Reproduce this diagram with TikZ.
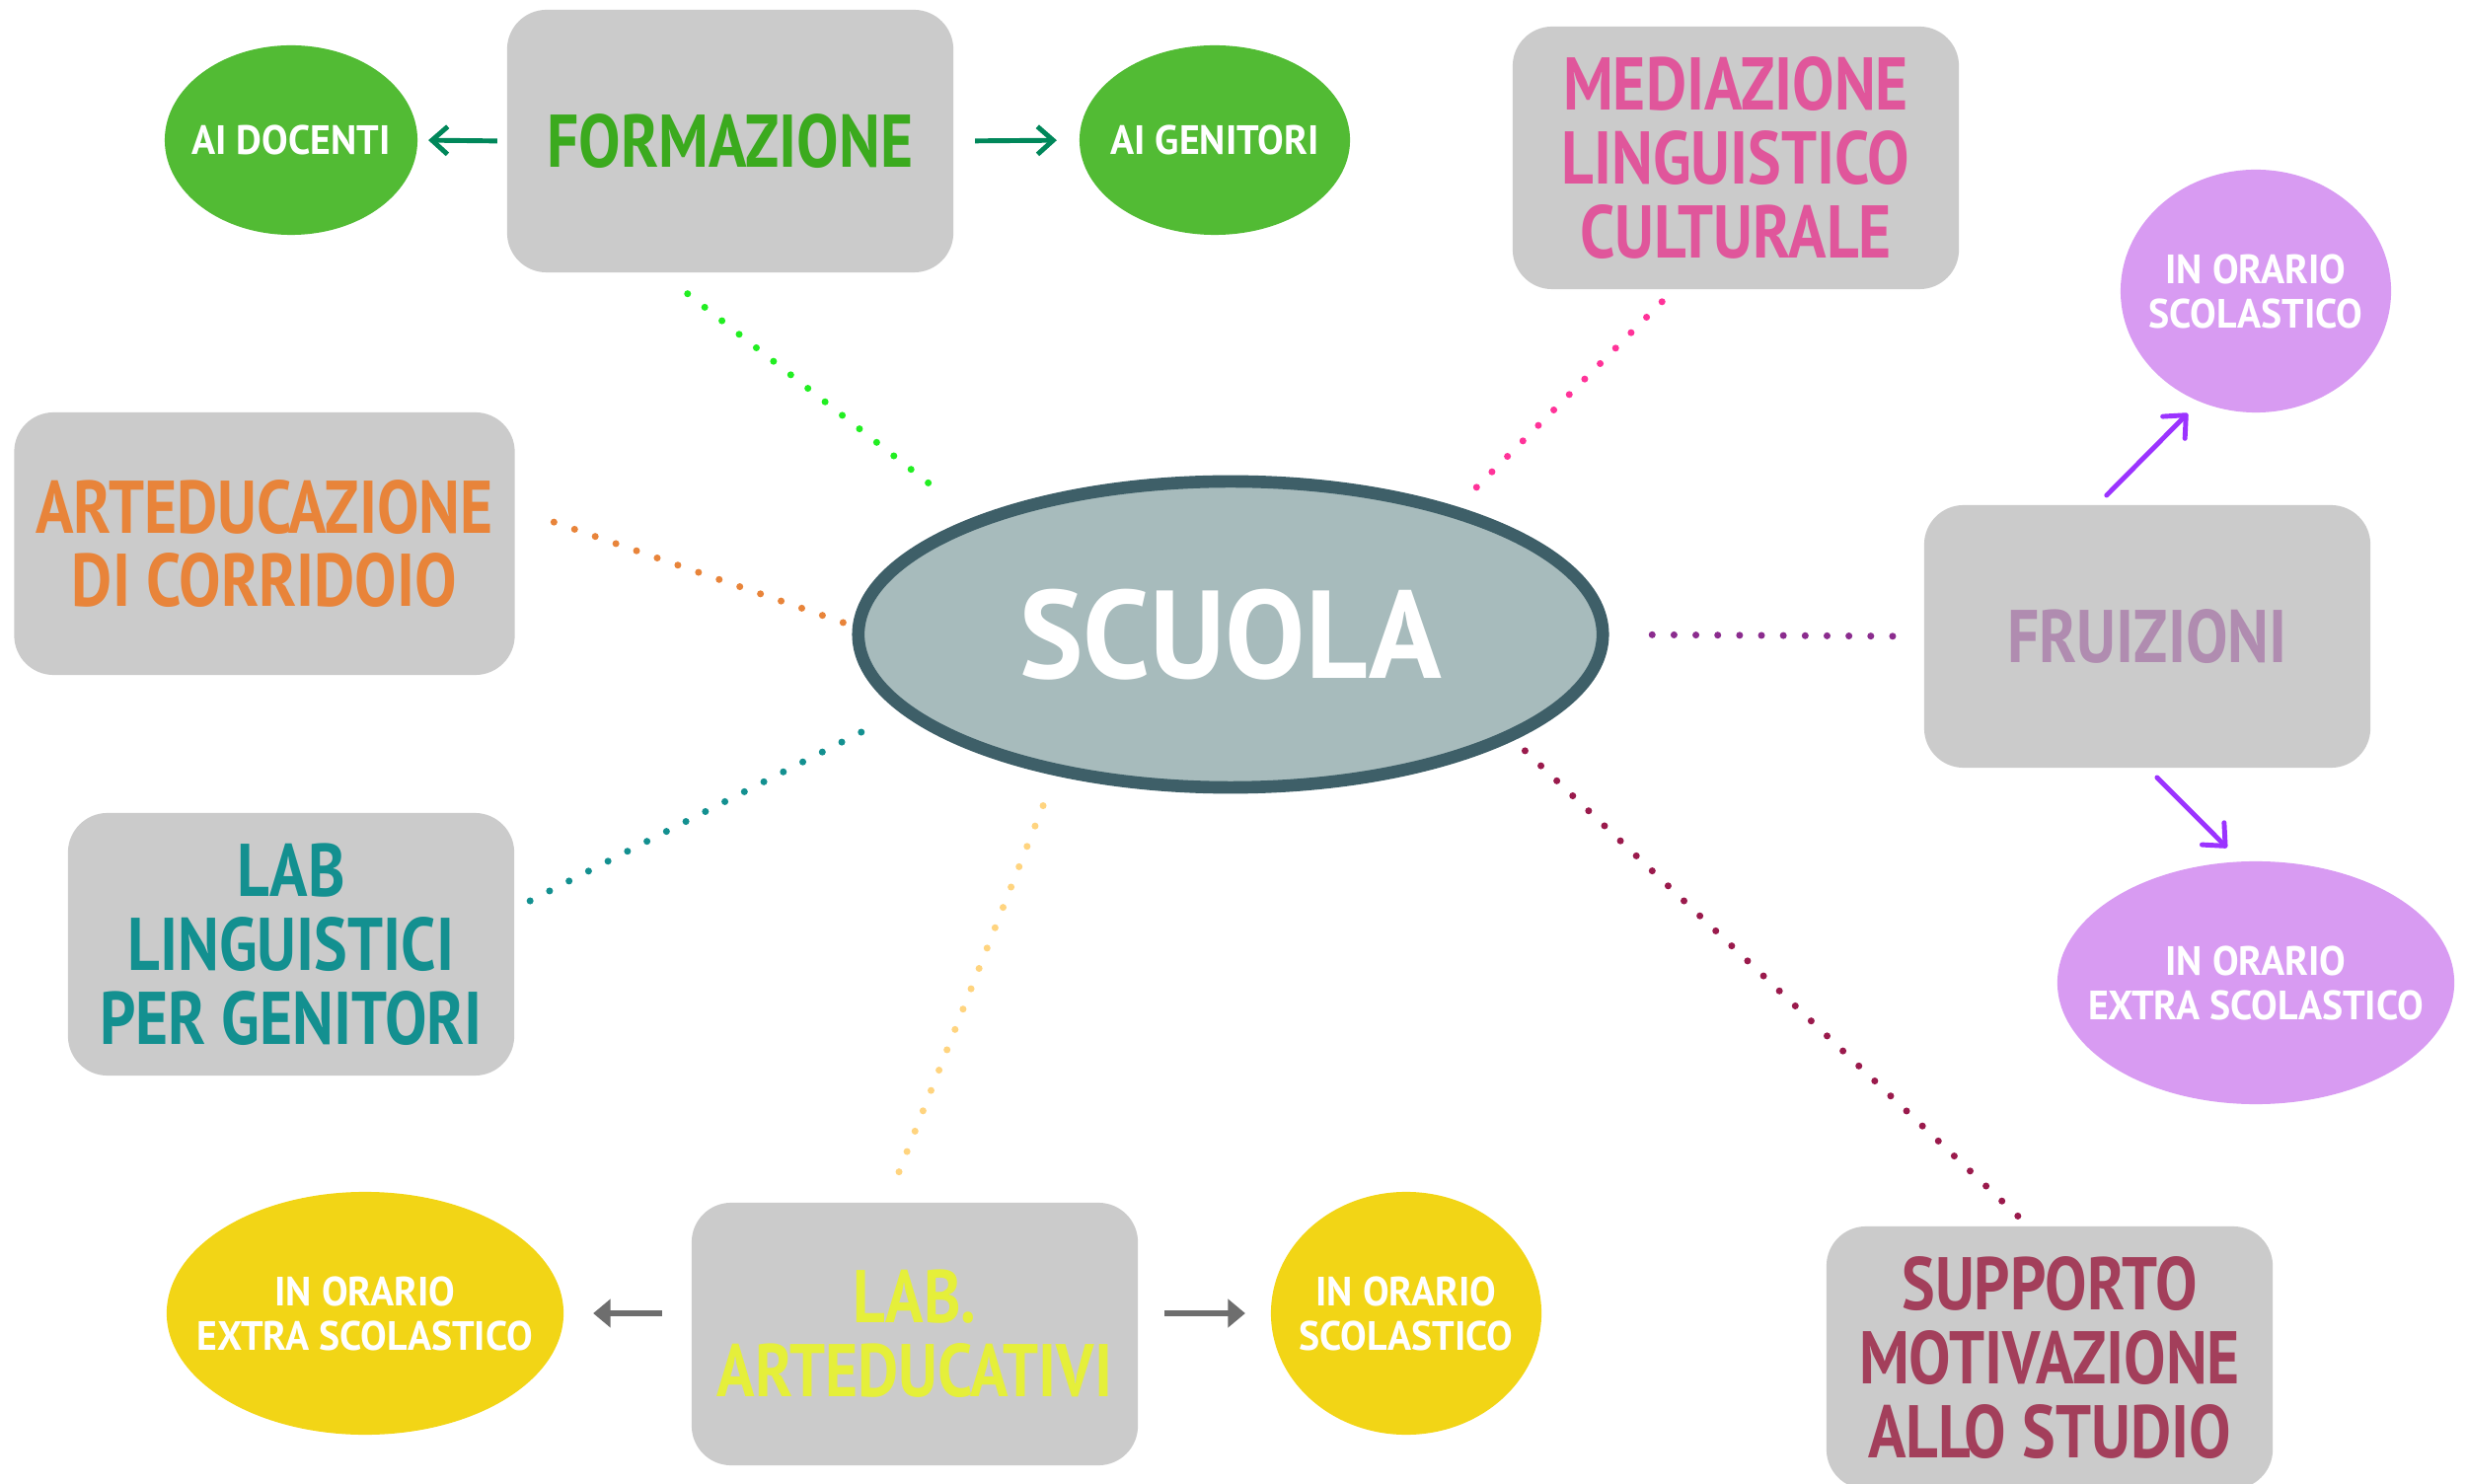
\documentclass[tikz,border=0pt]{standalone}
\usepackage{fontspec}
\setmainfont{PT Sans}[FakeStretch=0.84]
\newfontfamily\widefont{PT Sans}[FakeStretch=0.96]
\usetikzlibrary{shapes, arrows.meta, calc}

\definecolor{boxgray}{HTML}{CBCBCB}
\definecolor{scuolafill}{HTML}{A7BBBC}
\definecolor{scuolaline}{HTML}{3E5F68}
\definecolor{formgreen}{HTML}{3BAA1E}
\definecolor{bubblegreen}{HTML}{52BB34}
\definecolor{arrowgreen}{HTML}{00875A}
\definecolor{dotgreen}{HTML}{22EE22}
\definecolor{medpink}{HTML}{E0569B}
\definecolor{dotpink}{HTML}{FF3399}
\definecolor{artorange}{HTML}{E8843A}
\definecolor{labteal}{HTML}{139090}
\definecolor{fruimauve}{HTML}{B08CB0}
\definecolor{dotpurple}{HTML}{8B2C8E}
\definecolor{bubblelilac}{HTML}{D89BF2}
\definecolor{arrowpurple}{HTML}{9B33FF}
\definecolor{labyellow}{HTML}{E5EF3A}
\definecolor{bubbleyellow}{HTML}{F2D516}
\definecolor{dotpeach}{HTML}{FFD47F}
\definecolor{arrowgray}{HTML}{6E6E6E}
\definecolor{suproset}{HTML}{A33F5B}
\definecolor{dotmaroon}{HTML}{9A1A4C}

\begin{document}
\begin{tikzpicture}[x=0.01cm, y=-0.01cm,
	box/.style={fill=boxgray, rounded corners=0.4cm, minimum width=4.52cm, minimum height=2.66cm,
		inner sep=0pt, outer sep=0pt, align=center, font=\bfseries\fontsize{21.5}{21.3}\selectfont},
	bubble/.style={ellipse, inner xsep=-0.4cm, inner ysep=-0.3cm, outer sep=0pt, text=white, align=center,
		font=\widefont\bfseries\fontsize{11.8}{12.8}\selectfont},
	dots/.style={line width=2pt, line cap=round, dash pattern=on 0pt off 6.3pt},
	greenarrow/.style={line width=1.4pt, arrowgreen, -{Straight Barb[length=4.5pt, width=8pt]}},
	purplearrow/.style={line width=1.4pt, arrowpurple, line cap=round, -{Straight Barb[length=5pt, width=9pt, round]}},
	grayarrow/.style={line width=1.8pt, arrowgray, -{Triangle[length=5pt, width=8pt]}}]

	\useasboundingbox (0,0) rectangle (2500,1504);

	\node[ellipse, draw=scuolaline, line width=3.6pt, fill=scuolafill, minimum width=7.54cm, minimum height=3.1cm,
		inner sep=0pt, outer sep=0pt, text=white, font=\widefont\bfseries\fontsize{36}{36}\selectfont] (scuola) at (1247,643) {SCUOLA};

	\node[box, text=formgreen] (formazione) at (740,143) {FORMAZIONE};
	\node[box, text=medpink] (mediazione) at (1759,160) {MEDIAZIONE\\LINGUISTICO\\CULTURALE};
	\node[box, text=artorange, minimum width=5.07cm] (arteducazione) at (268,551) {ARTEDUCAZIONE\\DI CORRIDOIO};
	\node[box, text=labteal] (lablinguistici) at (295,957) {LAB\\LINGUISTICI\\PER GENITORI};
	\node[box, text=fruimauve] (fruizioni) at (2176,645) {FRUIZIONI};
	\node[box, text=labyellow] (labarte) at (927,1352) {LAB.\\ARTEDUCATIVI};
	\node[box, text=suproset] (supporto) at (2077,1376) {SUPPORTO\\MOTIVAZIONE\\ALLO STUDIO};

	\node[bubble, fill=bubblegreen, minimum width=2.56cm, minimum height=1.92cm] (aidocenti) at (295,142) {AI DOCENTI};
	\node[bubble, fill=bubblegreen, minimum width=2.74cm, minimum height=1.92cm] (aigenitori) at (1231,142) {AI GENITORI};
	\node[bubble, fill=bubblelilac, minimum width=2.74cm, minimum height=2.46cm] (orarioscol) at (2286,295) {IN ORARIO\\SCOLASTICO};
	\node[bubble, fill=bubblelilac, minimum width=4.02cm, minimum height=2.46cm] (orarioextra) at (2286,996) {IN ORARIO\\EXTRA SCOLASTICO};
	\node[bubble, fill=bubbleyellow, minimum width=4.02cm, minimum height=2.46cm] (extraleft) at (370,1331) {IN ORARIO\\EXTRA SCOLASTICO};
	\node[bubble, fill=bubbleyellow, minimum width=2.74cm, minimum height=2.46cm] (scolright) at (1425,1331) {IN ORARIO\\SCOLASTICO};

	% dotted links to the centre
	\draw[dots, dotgreen, shorten <=3.5mm, shorten >=5mm] (formazione.242) -- (scuola.156);
	\draw[dots, dotpink, shorten <=1.8mm, shorten >=2.9mm] (mediazione.245) -- (scuola.29);
	\draw[dots, artorange, shorten <=4.2mm, shorten >=1mm] (arteducazione.8) -- (scuola.179);
	\draw[dots, dotpurple, shorten <=5mm, shorten >=2.9mm] (scuola.0) -- (fruizioni.180);
	\draw[dots, labteal, shorten <=1.8mm, shorten >=3.5mm] (lablinguistici.9) -- (scuola.193);
	\draw[dots, dotpeach, shorten <=3.9mm, shorten >=2.5mm] (scuola.218) -- (labarte.102);
	\draw[dots, dotmaroon, shorten <=2.2mm, shorten >=0.4mm] (scuola.340) -- (supporto.99);

	\draw[greenarrow, shorten <=1mm, shorten >=1.1mm] (formazione.west) -- (aidocenti.east);
	\draw[greenarrow, shorten <=2.2mm, shorten >=2.3mm] (formazione.east) -- (aigenitori.west);
	\draw[purplearrow, shorten <=1.4mm, shorten >=1.7mm] (fruizioni.111) -- (orarioscol.243);
	\draw[purplearrow, shorten <=1.4mm, shorten >=2mm] (fruizioni.270) -- (orarioextra.97);
	\draw[grayarrow, shorten <=3mm, shorten >=3mm] (labarte.west |- extraleft) -- (extraleft.east);
	\draw[grayarrow, shorten <=2.7mm, shorten >=2.6mm] (labarte.east |- scolright) -- (scolright.west);
\end{tikzpicture}
\end{document}
